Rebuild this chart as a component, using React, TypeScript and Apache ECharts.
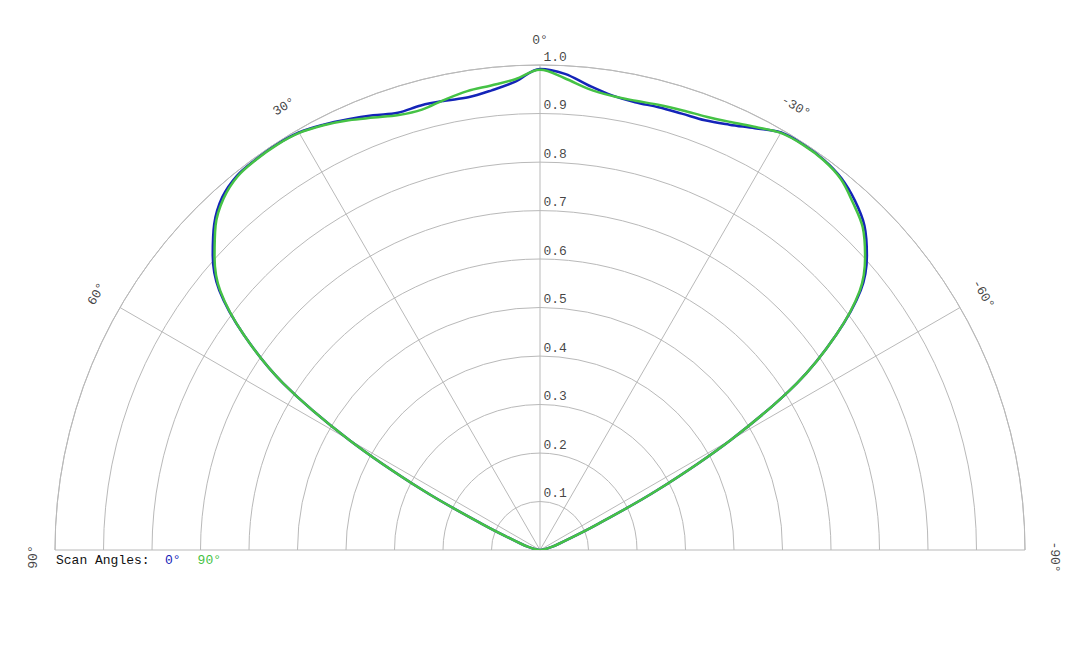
import React, { useEffect, useRef } from "react";
import * as echarts from "echarts";

// scan angle of each sample (deg), 0 at top, positive to the left
const angles = [
  -90, -87, -84, -81, -78, -75, -72, -69, -66, -63, -60, -57, -54, -51, -48, -45, -42, -39, -36, -33, -30,
  -27, -24, -21, -18, -15, -12, -9, -6, -3, 0, 3, 6, 9, 12, 15, 18, 21, 24, 27, 30, 33, 36, 39, 42, 45,
  48, 51, 54, 57, 60, 63, 66, 69, 72, 75, 78, 81, 84, 87, 90,
];

// normalized pattern, scan angle 0°
const scan0 = [
  0, 0.002, 0.005, 0.01, 0.015, 0.025, 0.04, 0.065, 0.125, 0.27, 0.455, 0.632, 0.755, 0.851, 0.907, 0.946,
  0.97, 0.987, 0.995, 0.997, 0.994, 0.976, 0.96, 0.949, 0.946, 0.945, 0.944, 0.949, 0.963, 0.983, 0.992,
  0.967, 0.953, 0.945, 0.947, 0.949, 0.948, 0.96, 0.972, 0.984, 0.994, 0.997, 0.996, 0.993, 0.979, 0.95,
  0.908, 0.851, 0.755, 0.632, 0.455, 0.27, 0.125, 0.065, 0.04, 0.025, 0.015, 0.01, 0.005, 0.002, 0,
];

// normalized pattern, scan angle 90°
const scan90 = [
  0, 0.002, 0.005, 0.01, 0.015, 0.025, 0.04, 0.065, 0.125, 0.27, 0.455, 0.632, 0.755, 0.848, 0.902, 0.941,
  0.964, 0.985, 0.994, 0.996, 0.993, 0.979, 0.966, 0.957, 0.953, 0.95, 0.947, 0.948, 0.956, 0.974, 0.99,
  0.972, 0.963, 0.958, 0.949, 0.94, 0.943, 0.955, 0.97, 0.983, 0.993, 0.996, 0.995, 0.991, 0.975, 0.946,
  0.903, 0.848, 0.755, 0.632, 0.455, 0.27, 0.125, 0.065, 0.04, 0.025, 0.015, 0.01, 0.005, 0.002, 0,
];

const radiusTicks = [0.1, 0.2, 0.3, 0.4, 0.5, 0.6, 0.7, 0.8, 0.9, 1.0];
const angleTicks = [-90, -60, -30, 0, 30, 60, 90];

const BLUE = "#1424b8";
const GREEN = "#45c245";
const GRID = "#b9b9b9";
const TEXT = "#111";
const FONT = "Liberation Mono, DejaVu Sans Mono, monospace";
const LABEL_R = 1.055;

// small nudges so the rotated edge labels sit where the original puts them
const labelOffset = (a) => {
  if (a === 90) return [-7, 5];
  if (a === -90) return [7, -3];
  if (a === 0) return [0, 2];
  return [0, 0];
};

const App = () => {
  const chartRef = useRef(null);

  useEffect(() => {
    if (!chartRef.current) return;
    const chart = echarts.init(chartRef.current, null, { renderer: "svg" });

    const options = {
      animation: false,
      backgroundColor: "#ffffff",
      textStyle: { fontFamily: FONT },
      title: {
        text: "Scan Angles:",
        left: 56,
        top: 554,
        padding: 0,
        textStyle: { fontFamily: FONT, fontSize: 13, fontWeight: "normal", color: TEXT },
      },
      legend: {
        data: [
          { name: "0°", textStyle: { color: BLUE } },
          { name: "90°", textStyle: { color: GREEN } },
        ],
        left: 159,
        top: 554,
        padding: 0,
        itemWidth: 0,
        itemHeight: 0,
        itemGap: 11,
        selectedMode: false,
        textStyle: { fontFamily: FONT, fontSize: 13 },
      },
      polar: { center: [540, 550], radius: 485 },
      angleAxis: {
        type: "value",
        min: -90,
        max: 90,
        interval: 30,
        startAngle: 0,
        endAngle: 180,
        clockwise: false,
        axisLine: { show: true, lineStyle: { color: GRID, width: 1 } },
        axisTick: { show: false },
        axisLabel: { show: false },
        splitLine: { show: true, lineStyle: { color: GRID, width: 1 } },
      },
      radiusAxis: {
        type: "value",
        min: 0,
        max: 1,
        interval: 0.1,
        axisLine: { show: false },
        axisTick: { show: false },
        axisLabel: { show: false },
        splitLine: { show: true, lineStyle: { color: GRID, width: 1 } },
      },
      series: [
        {
          name: "0°",
          type: "line",
          coordinateSystem: "polar",
          data: angles.map((a, i) => [scan0[i], a]),
          showSymbol: false,
          smooth: 0.35,
          color: BLUE,
          lineStyle: { color: BLUE, width: 2.5 },
          z: 3,
        },
        {
          name: "90°",
          type: "line",
          coordinateSystem: "polar",
          data: angles.map((a, i) => [scan90[i], a]),
          showSymbol: false,
          smooth: 0.35,
          color: GREEN,
          lineStyle: { color: GREEN, width: 2.5 },
          z: 4,
        },
        {
          name: "radius labels",
          type: "scatter",
          coordinateSystem: "polar",
          clip: false,
          silent: true,
          symbolSize: 1,
          itemStyle: { color: "rgba(0,0,0,0)" },
          data: radiusTicks.map((r) => [r, 0]),
          label: {
            show: true,
            position: "right",
            distance: 3,
            offset: [0, -8],
            formatter: (p) => p.value[0].toFixed(1),
            fontFamily: FONT,
            fontSize: 13,
            color: TEXT,
          },
          z: 5,
        },
        {
          name: "angle labels",
          type: "scatter",
          coordinateSystem: "polar",
          clip: false,
          silent: true,
          symbolSize: 1,
          itemStyle: { color: "rgba(0,0,0,0)" },
          data: angleTicks.map((a) => ({
            value: [LABEL_R, a],
            label: { rotate: a, offset: labelOffset(a) },
          })),
          label: {
            show: true,
            position: "inside",
            align: "center",
            verticalAlign: "middle",
            formatter: (p) => `${p.value[1]}°`,
            fontFamily: FONT,
            fontSize: 13,
            color: TEXT,
          },
          z: 5,
        },
      ],
    };

    chart.setOption(options);
    return () => chart.dispose();
  }, []);

  return (
    <div
      ref={chartRef}
      style={{ position: "absolute", left: 0, top: 0, width: "1080px", height: "648px" }}
    />
  );
};

export default App;
